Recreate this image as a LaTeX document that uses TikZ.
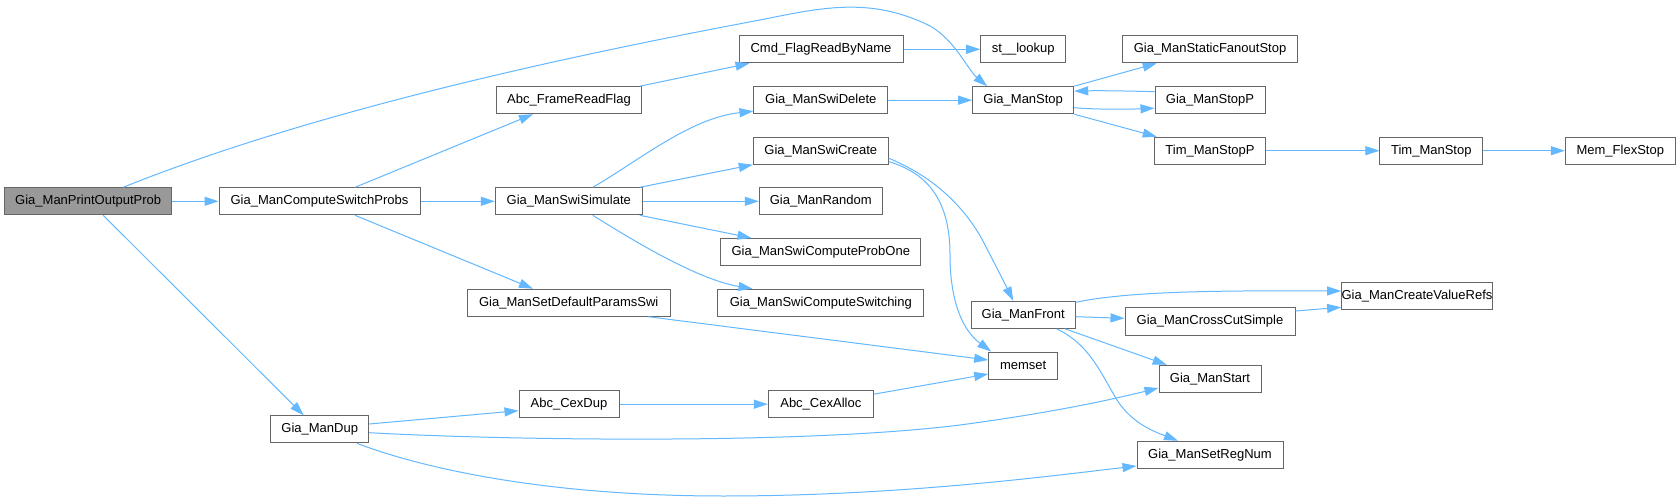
\documentclass[tikz,border=0pt]{standalone}
\usepackage{fontspec}
\setmainfont{Liberation Sans}
\usetikzlibrary{arrows.meta}
\definecolor{edgeblue}{RGB}{99,184,255}
\definecolor{boxgray}{RGB}{102,102,102}
\definecolor{mainfill}{RGB}{153,153,153}
\begin{document}
\begin{tikzpicture}[x=1pt,y=-1pt,
  box/.style={draw=boxgray, fill=white, line width=1pt, minimum height=27pt, inner sep=0pt, font=\fontsize{13}{15}\selectfont},
  mainbox/.style={box, fill=mainfill},
  edge/.style={draw=edgeblue, line width=1pt, -{Triangle[length=14pt,width=9pt]}}]
\useasboundingbox[fill=white] (0,0) rectangle (1680,502);

\node[mainbox, minimum width=167pt] (po) at (88.2,201.3) {Gia\_ManPrintOutputProb};
\node[box, minimum width=201pt] (cs) at (319.5,201.3) {Gia\_ManComputeSwitchProbs};
\node[box, minimum width=144.6pt] (frf) at (569,100.2) {Abc\_FrameReadFlag};
\node[box, minimum width=147pt] (sim) at (568.8,201.3) {Gia\_ManSwiSimulate};
\node[box, minimum width=202.7pt] (sdp) at (568.7,302.7) {Gia\_ManSetDefaultParamsSwi};
\node[box, minimum width=98pt] (dup) at (319.7,429.3) {Gia\_ManDup};
\node[box, minimum width=164pt] (cmd) at (821,49.3) {Cmd\_FlagReadByName};
\node[box, minimum width=85pt] (st) at (1023.2,49.3) {st\_\_lookup};
\node[box, minimum width=133.7pt] (del) at (820.8,100.2) {Gia\_ManSwiDelete};
\node[box, minimum width=101pt] (stop) at (1023.2,100.2) {Gia\_ManStop};
\node[box, minimum width=135pt] (cre) at (820.8,150.7) {Gia\_ManSwiCreate};
\node[box, minimum width=123pt] (rnd) at (820.8,201.3) {Gia\_ManRandom};
\node[box, minimum width=199.7pt] (pone) at (820.8,252) {Gia\_ManSwiComputeProbOne};
\node[box, minimum width=205.7pt] (sws) at (820.8,302.7) {Gia\_ManSwiComputeSwitching};
\node[box, minimum width=174.6pt] (sfs) at (1210,49.3) {Gia\_ManStaticFanoutStop};
\node[box, minimum width=110pt] (stopp) at (1210,100.2) {Gia\_ManStopP};
\node[box, minimum width=111.4pt] (tstopp) at (1210,150.7) {Tim\_ManStopP};
\node[box, minimum width=102.7pt] (tstop) at (1431.3,150.7) {Tim\_ManStop};
\node[box, minimum width=110pt] (mem) at (1620.3,150.7) {Mem\_FlexStop};
\node[box, minimum width=103.7pt] (front) at (1023.2,314.8) {Gia\_ManFront};
\node[box, minimum width=69pt] (memset) at (1023.2,365.5) {memset};
\node[box, minimum width=144pt] (cvr) at (1417,296.2) {Gia\_ManCreateValueRefs};
\node[box, minimum width=170pt] (ccs) at (1210,321.5) {Gia\_ManCrossCutSimple};
\node[box, minimum width=102pt] (start) at (1210,378.8) {Gia\_ManStart};
\node[box, minimum width=146pt] (srn) at (1210,454.8) {Gia\_ManSetRegNum};
\node[box, minimum width=100pt] (cexdup) at (569,404.2) {Abc\_CexDup};
\node[box, minimum width=105pt] (cexalloc) at (820.8,404.2) {Abc\_CexAlloc};

% edges
\draw[edge] (po) -- (cs);
\draw[edge] ([xshift=35]po.north) .. controls (325,106) and (600,50) .. (760,20) .. controls (820,8) and (870,-4) .. (930,26) .. controls (955,40) and (968,70) .. ([xshift=15]stop.north west);
\draw[edge] (po.south) ++(15,0) -- ([xshift=-16]dup.north);
\draw[edge] ([xshift=35.5]cs.north) -- ([xshift=-36]frf.south);
\draw[edge] (cs) -- (sim);
\draw[edge] ([xshift=35.5]cs.south) -- ([xshift=-35.7]sdp.north);
\draw[edge] ([xshift=-2]frf.north east) -- ([xshift=11]cmd.south west);
\draw[edge] (cmd) -- (st);
\draw[edge] ([xshift=24]sim.north) .. controls (640,160) and (690,118) .. ([yshift=3]del.south west);
\draw[edge] ([xshift=71]sim.north) -- (cre.south west);
\draw[edge] (sim) -- (rnd);
\draw[edge] ([xshift=71]sim.south) -- ([xshift=31]pone.north west);
\draw[edge] ([xshift=24]sim.south) .. controls (640,245) and (700,280) .. ([xshift=35]sws.north west);
\draw[edge] (del) -- (stop);
\draw[edge] ([yshift=-7.6]cre.east) .. controls (930,175) and (965,205) .. (985,245) .. controls (998,270) and (1007,288) .. ([xshift=-10]front.north);
\draw[edge] ([yshift=-11]cre.east) .. controls (935,175) and (950,210) .. (950,255) .. controls (950,300) and (962,330) .. ([xshift=3]memset.north west);
\draw[edge] (stop.north east) -- ([xshift=-53.3]sfs.south);
\draw[edge] ([yshift=-7.5]stop.east) .. controls (1095,109.5) and (1125,109.5) .. ([yshift=-8]stopp.west);
\draw[edge] ([yshift=8.5]stopp.west) .. controls (1130,91) and (1100,90.5) .. ([yshift=9]stop.east);
\draw[edge] (stop.south east) -- ([xshift=-53.3]tstopp.north);
\draw[edge] (tstopp) -- (tstop);
\draw[edge] (tstop) -- (mem);
\draw[edge] ([xshift=79.6]sdp.south) -- ([yshift=5.5]memset.west);
\draw[edge] ([yshift=10]cexalloc.east) -- ([yshift=-8.5]memset.west);
\draw[edge] (cexdup) -- (cexalloc);
\draw[edge] ([yshift=5.3]dup.east) -- ([yshift=-6.5]cexdup.west);
\draw[edge] ([yshift=-3.4]dup.east) .. controls (500,440) and (800,445) .. (960,425) .. controls (1050,413) and (1110,400) .. ([yshift=-9.2]start.west);
\draw[edge] ([xshift=37.3]dup.south) .. controls (400,460) and (520,496) .. (723,496) .. controls (900,496) and (1050,476) .. ([yshift=-11.2]srn.west);
\draw[edge] ([yshift=12.5]front.east) .. controls (1130,291) and (1220,290.5) .. ([yshift=5.2]cvr.west);
\draw[edge] ([yshift=-1.9]front.east) -- ([yshift=3.2]ccs.west);
\draw[edge] ([yshift=10.5]ccs.east) -- ([yshift=-11.1]cvr.west);
\draw[edge] ([xshift=41.8]front.south) -- ([xshift=-43.3]start.north);
\draw[edge] ([xshift=33.5]front.south) .. controls (1090,345) and (1100,372) .. (1117,400) .. controls (1133,425) and (1158,433) .. ([xshift=-32]srn.north);
\end{tikzpicture}
\end{document}
